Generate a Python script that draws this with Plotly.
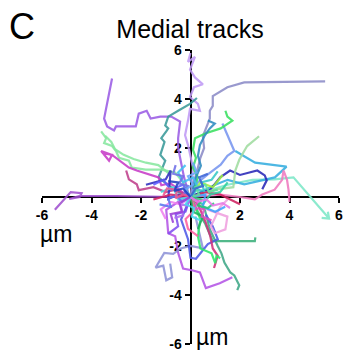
import plotly.graph_objects as go

# Cell tracks (x, y in µm), each starting near the origin
track_names = []
track_colors = []
track_x = []
track_y = []


def add_track(name, color, xs, ys):
    track_names.append(name)
    track_colors.append(color)
    track_x.append(xs)
    track_y.append(ys)


# long tracks
add_track("t01", "#c09af5",
          [0.02, 0.1, -0.1, -0.22, -0.1, -0.02, 0.38, 0.3, -0.02, 0.14, 0.5, 0.18, -0.02, 0.18, -0.1, 0.0],
          [0.0, 1.2, 2.12, 2.52, 3.12, 3.6, 3.52, 3.8, 4.08, 4.48, 4.6, 4.88, 5.2, 5.72, 5.52, 5.88])
add_track("t02", "#8c8cc8",
          [5.44, 2.17, 1.49, 0.9, 0.9, 0.78, 0.78, 0.5, 0.55, 0.4, 0.25, 0.1, 0.0],
          [4.72, 4.68, 4.48, 4.12, 3.72, 3.52, 3.2, 2.48, 2.0, 1.6, 1.0, 0.5, 0.0])
add_track("t03", "#9b5de5",
          [-3.17, -3.49, -3.37, -3.09, -3.01, -2.21, -2.09, -1.77, -1.61, -1.22, -0.78, -0.42, -0.5, -0.5, -0.38, -0.26, -0.1],
          [4.84, 3.2, 2.88, 2.72, 2.88, 2.88, 3.4, 3.52, 3.2, 3.28, 3.28, 3.08, 2.4, 2.0, 1.4, 0.8, 0.2])
add_track("t04", "#3a9a9a",
          [0.26, -0.02, -0.5, -0.9, -1.02, -0.9, -0.98, -1.18, -1.05, -1.1, -1.22, -1.02, -1.18, -1.29, -0.9, -0.5, 0.0],
          [4.04, 3.8, 3.52, 3.28, 2.92, 2.8, 2.68, 2.4, 2.25, 2.08, 1.72, 1.48, 1.08, 0.8, 0.48, 0.2, 0.0])
add_track("t05", "#88e8a0",
          [-3.61, -3.41, -3.49, -3.17, -3.01, -2.89, -2.49, -2.37, -1.81, -1.18, -0.62, -0.3, 0.0],
          [2.68, 2.4, 2.2, 2.08, 1.88, 1.6, 1.48, 1.2, 1.12, 1.12, 1.0, 0.6, 0.0])
add_track("t05b", "#88e8a0",
          [-3.45, -3.2, -3.05, -2.7, -2.3, -1.8, -1.3, -0.8],
          [2.5, 2.25, 1.95, 1.72, 1.55, 1.4, 1.3, 0.9])
add_track("t06", "#c83cc8",
          [-3.57, -3.17, -3.29, -3.61, -3.17, -2.49, -2.17, -1.81, -1.61, -1.29, -1.18, -0.82, -0.5, -0.1],
          [1.8, 1.72, 1.48, 1.88, 1.72, 1.2, 1.08, 0.96, 0.88, 0.8, 0.48, 0.56, 0.32, 0.05])
add_track("t07", "#c0408c",
          [-2.6, -2.49, -2.17, -2.09, -1.5, -1.0, -0.6, 0.0],
          [1.08, 0.72, 0.52, 0.28, 0.4, 0.2, 0.3, 0.0])
add_track("t08", "#a050d0",
          [-5.48, -4.84, -4.4, -4.48, -4.9, -4.5, -3.0, -1.5, -0.5, 0.0],
          [-0.52, 0.2, 0.16, 0.0, -0.08, 0.04, 0.04, 0.02, 0.0, -0.05])
add_track("t09", "#7de8c8",
          [0.0, 0.5, 1.5, 2.5, 3.4, 4.16, 5.6, 5.3, 5.6, 5.55],
          [0.0, 0.2, 0.5, 0.7, 0.72, 0.8, -0.88, -0.85, -0.88, -0.6])
add_track("t10", "#35aee0",
          [1.81, 2.61, 3.88, 3.41, 2.17, 1.5, 1.0, 0.4, 0.0],
          [1.88, 1.4, 1.24, 0.8, 0.52, 0.7, 0.5, 0.2, 0.0])
add_track("t11", "#f07ac0",
          [0.0, 1.2, 2.0, 2.6, 2.9, 3.4, 3.7, 3.76, 3.9, 3.96, 4.0],
          [0.0, 0.1, 0.0, -0.1, 0.1, 0.3, 0.7, 1.08, 0.7, 0.3, -0.2])
add_track("t12", "#2828b8",
          [0.2, 0.8, 1.2, 1.6, 2.0, 2.7, 3.0, 3.08, 2.9],
          [0.1, 0.3, 0.8, 1.08, 0.9, 1.08, 0.88, 0.68, 0.32])
add_track("t13", "#3030c0",
          [-1.8, -1.0, -0.8, -0.9, -0.5, 0.0],
          [0.5, 0.72, 1.08, -0.08, 0.1, 0.0])
add_track("t14", "#7896f0",
          [1.29, 1.77, 1.49, 1.22, 0.7, 0.3, 0.06],
          [3.0, 1.88, 1.68, 1.32, 0.92, 0.6, 0.2])
add_track("t15", "#3ae060",
          [1.41, 1.49, 1.69, 1.22, 0.62, 0.18, 0.1, 0.22, 0.1, 0.3, 0.14],
          [3.52, 3.28, 3.12, 2.8, 2.6, 2.4, 1.92, 1.6, 1.2, 0.8, 0.32])
add_track("t16", "#2e8cc0",
          [0.7, 0.98, 0.78, 0.58, 0.38, 0.3, 0.42, 0.22, 0.1],
          [3.12, 3.0, 2.8, 2.52, 2.12, 1.68, 1.28, 0.8, 0.32])
add_track("t17", "#a0dca0",
          [2.77, 2.57, 2.29, 2.17, 1.97, 1.81, 1.77, 1.73, 1.0, 0.3],
          [2.48, 2.32, 2.08, 1.88, 1.52, 1.08, 0.8, 0.4, 0.3, 0.1])
add_track("t18", "#3fa888",
          [0.0, 0.58, 0.78, 0.9, 1.1, 1.25, 1.37, 1.61, 1.77, 1.97, 1.89],
          [0.0, -0.52, -1.32, -1.6, -2.0, -2.3, -2.68, -3.08, -3.2, -3.6, -3.8])
add_track("t19", "#3cb07c",
          [0.0, 0.3, 0.6, 0.9, 1.2, 2.6, 2.62],
          [0.0, -0.6, -1.1, -1.8, -1.8, -1.8, -1.65])
add_track("t20", "#b455e6",
          [-0.2, -0.98, -0.9, -0.62, -0.5, -0.3, 0.1, 0.38, 0.62, 1.18, 1.69],
          [0.0, -0.52, -1.48, -1.6, -2.28, -2.92, -3.0, -3.08, -3.72, -3.52, -3.28])
add_track("t21", "#8f94d8",
          [0.2, 0.4, 0.5, 0.0, -0.4, -0.7, -1.06, -1.41, -1.1, -0.98, -0.74, -0.82],
          [-0.8, -1.6, -2.1, -2.0, -2.1, -2.32, -2.28, -2.88, -2.8, -3.4, -3.28, -2.72])
add_track("t22", "#4f5ae8",
          [0.0, -0.38, -0.1, 0.0, 0.22, 0.7, 1.1, 0.9, 0.62],
          [0.0, -0.92, -1.72, -2.48, -2.52, -1.92, -1.72, -1.2, -0.72])
add_track("t23", "#d0307c",
          [0.0, 0.3, 0.6, 0.8, 0.9, 1.1, 0.95],
          [0.0, -0.3, -1.0, -1.6, -2.1, -2.4, -2.9])
add_track("t24", "#2ee86c",
          [0.0, 0.4, 0.3, 0.4, 0.85, 1.0, 1.05, 1.2],
          [0.0, -0.9, -1.6, -2.1, -2.3, -2.7, -2.4, -2.5])
add_track("t25", "#f0a0e0",
          [0.0, 0.7, 1.49, 1.41, 0.98, 0.82, 1.2, 1.5],
          [0.0, -0.52, -0.8, -1.32, -1.48, -1.2, -0.4, -0.1])
add_track("t26", "#d02060",
          [-1.5, -0.8, 0.0, 0.6, 1.2, 1.8, 2.0],
          [-0.1, 0.1, 0.0, 0.2, 0.1, -0.2, -0.3])

# short tracks around the origin
add_track("c01", "#40c0f0", [0.0, 0.3, 0.1, -0.3, -0.5, -0.2], [0.0, 0.4, 0.8, 0.6, 1.0, 1.3])
add_track("c02", "#f080f0", [0.0, -0.4, -0.8, -1.2, -1.0], [0.0, -0.3, -0.2, -0.5, -0.9])
add_track("c03", "#30d0a0", [0.0, 0.5, 0.8, 1.2, 1.5], [0.0, -0.3, 0.1, 0.2, 0.6])
add_track("c04", "#6060ff", [0.0, -0.3, -0.8, -1.1, -1.5], [0.0, 0.5, 0.3, 0.7, 0.5])
add_track("c05", "#a0f040", [0.0, 0.4, 0.9, 1.3], [0.0, 0.6, 0.4, 0.9])
add_track("c06", "#ff60a0", [0.0, 0.2, -0.2, -0.1, 0.3], [0.0, -0.5, -0.9, -1.3, -1.6])
add_track("c07", "#50e0e0", [0.0, -0.5, -0.7, -1.2], [0.0, -0.1, 0.4, 0.2])
add_track("c08", "#8050f0", [0.0, -0.2, -0.6, -0.5, -0.9], [0.0, -0.6, -0.7, -1.2, -1.5])
add_track("c09", "#40a0ff", [0.0, 0.6, 0.5, 1.0, 1.4], [0.0, 0.1, -0.4, -0.6, -0.4])
add_track("c10", "#20b060", [0.0, 0.1, 0.5, 0.3], [0.0, -0.6, -0.8, -1.3])
add_track("c11", "#7070e8", [0.0, -0.25, -0.1, -0.45, -0.3, -0.7, -0.6], [0.0, 0.15, 0.45, 0.55, 0.85, 0.95, 1.3])
add_track("c12", "#e050c0", [0.0, 0.3, 0.15, 0.55, 0.45, 0.85], [0.0, -0.15, -0.45, -0.5, -0.8, -0.95])
add_track("c13", "#38c8c8", [0.0, 0.25, 0.55, 0.45, 0.85, 1.1], [0.0, 0.3, 0.25, 0.6, 0.7, 1.05])
add_track("c14", "#5a78f0", [0.0, -0.35, -0.55, -0.9, -0.8, -1.25], [0.0, -0.2, 0.05, -0.05, -0.4, -0.3])
add_track("c15", "#b070f0", [0.0, -0.15, -0.4, -0.3, -0.65], [0.0, -0.35, -0.3, -0.75, -0.85])
add_track("c16", "#60e0a0", [0.0, 0.35, 0.2, 0.6, 0.75, 1.1], [0.0, 0.1, 0.4, 0.5, 0.2, 0.3])
add_track("c17", "#f05890", [0.0, -0.3, -0.6, -0.55, -0.95, -1.1], [0.0, 0.1, -0.05, 0.3, 0.35, 0.05])
add_track("c18", "#3c64d8", [0.0, 0.2, 0.5, 0.35, 0.7], [0.0, 0.35, 0.45, 0.8, 0.95])
add_track("c19", "#4cd8f0", [0.0, -0.2, 0.15, 0.05, 0.4], [0.0, -0.3, -0.45, -0.8, -0.95])
add_track("c20", "#9c40d8", [0.0, -0.45, -0.35, -0.8, -0.7], [0.0, -0.25, -0.6, -0.7, -1.05])
add_track("c21", "#28c878", [0.0, 0.45, 0.3, 0.7, 0.95], [0.0, -0.1, -0.35, -0.45, -0.25])
add_track("c22", "#e878e8", [0.0, 0.3, 0.65, 0.9, 1.3, 1.6], [0.0, -0.2, -0.1, -0.35, -0.25, -0.45])
add_track("c23", "#6aa8f8", [0.0, -0.2, 0.1, -0.1, 0.25, 0.1], [0.0, 0.3, 0.5, 0.85, 1.0, 1.4])
add_track("c24", "#2040c0", [0.0, -0.3, -0.65, -0.5, -0.9], [0.0, 0.35, 0.25, 0.6, 0.65])

tick_vals = [-6, -4, -2, 2, 4, 6]
tick_text = ["-6", "-4", "-2", "2", "4", "6"]

fig = go.Figure()
for name, color, xs, ys in zip(track_names, track_colors, track_x, track_y):
    fig.add_trace(go.Scatter(x=xs, y=ys, mode="lines", name=name,
                             line=dict(color=color, width=2.2), opacity=0.88,
                             showlegend=False, hoverinfo="skip"))

axis_common = dict(
    range=[-6, 6], showgrid=False, zeroline=False, showline=True,
    linecolor="black", linewidth=2, ticks="outside", ticklen=5, tickwidth=2,
    tickcolor="black", tickvals=tick_vals, ticktext=tick_text,
    tickfont=dict(family="Arial, Liberation Sans", size=14, color="black", weight="bold"),
    anchor="free", position=0.5, layer="below traces", fixedrange=True,
)

fig.update_layout(
    width=351, height=360,
    margin=dict(l=42, r=8, t=50, b=10),
    paper_bgcolor="white", plot_bgcolor="white",
    xaxis=axis_common,
    yaxis=axis_common,
    title=dict(text="Medial tracks", x=190 / 351, xanchor="center",
               y=1 - 29 / 360, yanchor="middle",
               font=dict(family="Arial, Liberation Sans", size=25, color="black")),
    annotations=[
        dict(text="C", xref="paper", yref="paper", x=-0.068, y=1.08,
             showarrow=False, xanchor="center", yanchor="middle",
             font=dict(family="Arial, Liberation Sans", size=36, color="black")),
        dict(text="µm", xref="x", yref="y", x=-5.45, y=-1.5, showarrow=False,
             xanchor="center", yanchor="middle",
             font=dict(family="Arial, Liberation Sans", size=23, color="black")),
        dict(text="µm", xref="x", yref="y", x=0.85, y=-5.72, showarrow=False,
             xanchor="center", yanchor="middle",
             font=dict(family="Arial, Liberation Sans", size=23, color="black")),
    ],
)

fig.write_html("out.html")
